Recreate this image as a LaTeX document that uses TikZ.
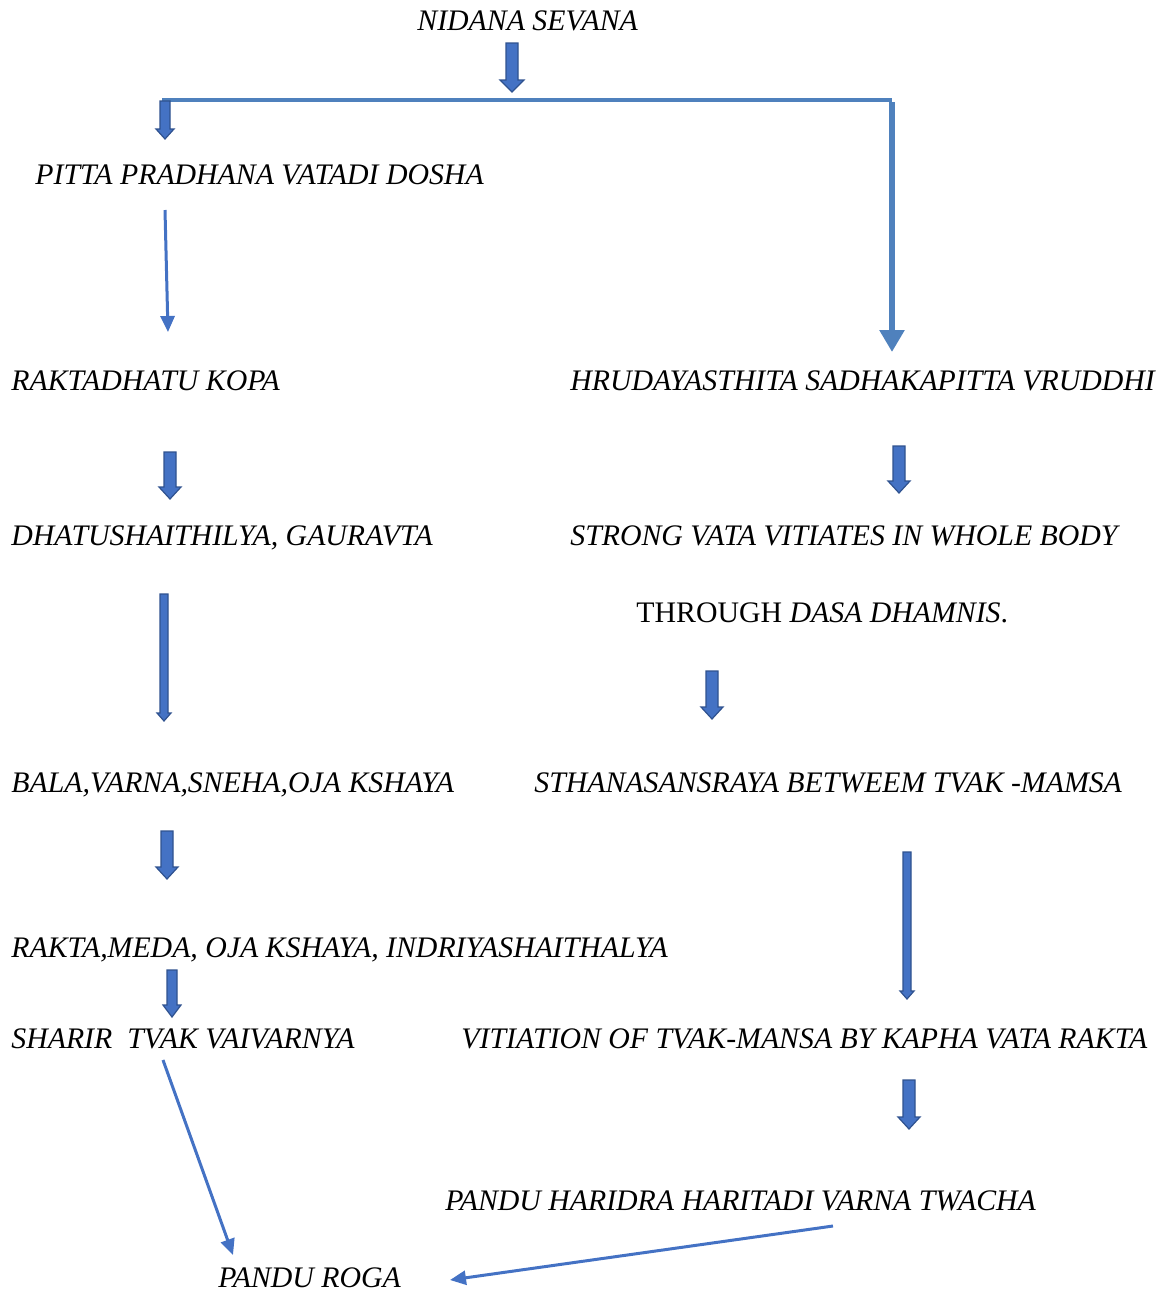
\documentclass[tikz,border=0pt]{standalone}
\usepackage{fontspec}
\setmainfont{Liberation Serif}
\usepackage{tikz}
\usetikzlibrary{arrows.meta}

\definecolor{arrowblue}{HTML}{4472C4}
\definecolor{arrowdark}{HTML}{2F528F}
\definecolor{lineblue}{HTML}{4F81BD}

\tikzset{
  txt/.style = {anchor=base west, inner sep=0pt, font=\fontsize{14.9}{17}\selectfont\itshape},
  fatarr/.style = {fill=arrowblue, draw=arrowdark, line width=0.6pt},
  thinarr/.style = {draw=arrowblue, line width=1.5pt, -{Triangle[length=8pt,width=7pt]}},
  thickarr/.style = {draw=lineblue, line width=3pt, -{Triangle[length=11pt,width=12pt]}}
}

% x, top, bottom, shaft half width, head half width, head length
\newcommand{\fatarrow}[6]{%
  \draw[fatarr] ({#1-#4},#2) -- ({#1+#4},#2) -- ({#1+#4},{#3-#6}) -- ({#1+#5},{#3-#6})
    -- (#1,#3) -- ({#1-#5},{#3-#6}) -- ({#1-#4},{#3-#6}) -- cycle;}

\begin{document}
\begin{tikzpicture}[x=0.5pt, y=-0.5pt]
        \useasboundingbox (0,0) rectangle (1156,1291);
        % texts
        \node[txt] (nidana) at (417,30) {NIDANA SEVANA};
        \node[txt] (pitta) at (35,184) {PITTA PRADHANA VATADI DOSHA};
        \node[txt] (rakta) at (11,390) {RAKTADHATU KOPA};
        \node[txt] (hruday) at (570,390) {HRUDAYASTHITA SADHAKAPITTA VRUDDHI};
        \node[txt] (dhatu) at (11,545) {DHATUSHAITHILYA, GAURAVTA};
        \node[txt] (strong) at (570,545) {STRONG VATA VITIATES IN WHOLE BODY};
        \node[txt] (through) at (636,622) {\upshape THROUGH \textit{DASA DHAMNIS}.};
        \node[txt] (bala) at (11,792) {BALA,VARNA,SNEHA,OJA KSHAYA};
        \node[txt] (sthana) at (534,792) {STHANASANSRAYA BETWEEM TVAK -MAMSA};
        \node[txt] (meda) at (11,957) {RAKTA,MEDA, OJA KSHAYA, INDRIYASHAITHALYA};
        \node[txt] (sharir) at (11,1048) {SHARIR\ \ TVAK VAIVARNYA};
        \node[txt] (vitiation) at (461,1048) {VITIATION OF TVAK-MANSA BY KAPHA VATA RAKTA};
        \node[txt] (haridra) at (445,1210) {PANDU HARIDRA HARITADI VARNA TWACHA};
        \node[txt] (roga) at (218,1287) {PANDU ROGA};
        % split line
        \coordinate (lcorner) at (162,100);
        \coordinate (rcorner) at (892,100);
        \draw[lineblue, line width=2pt] (lcorner) -- (rcorner);
        \draw[thickarr] ([yshift=-1pt]rcorner) -- ([shift={(322,-38)}]hruday.base west);
        % thin arrows
        \draw[thinarr] ([shift={(130,26)}]pitta.base west) -- ([shift={(157,-58)}]rakta.base west);
        \draw[thinarr] ([shift={(152,12)}]sharir.base west) -- ([shift={(15,-32)}]roga.base west);
        \draw[thinarr] ([shift={(388,16)}]haridra.base west) -- ([shift={(232,-7)}]roga.base west);
        % block arrows
        \fatarrow{512}{43}{92}{6}{12}{12}
        \fatarrow{165}{101}{139}{5}{9}{10}
        \fatarrow{170}{452}{499}{6}{11}{12}
        \fatarrow{899}{446}{493}{6}{11}{12}
        \fatarrow{164}{594}{721}{4}{7}{8}
        \fatarrow{712}{671}{719}{6}{11}{12}
        \fatarrow{167}{831}{879}{6}{11}{12}
        \fatarrow{907}{852}{999}{4}{7}{8}
        \fatarrow{172}{970}{1017}{5}{9}{12}
        \fatarrow{909}{1080}{1129}{6}{11}{12}
\end{tikzpicture}
\end{document}
